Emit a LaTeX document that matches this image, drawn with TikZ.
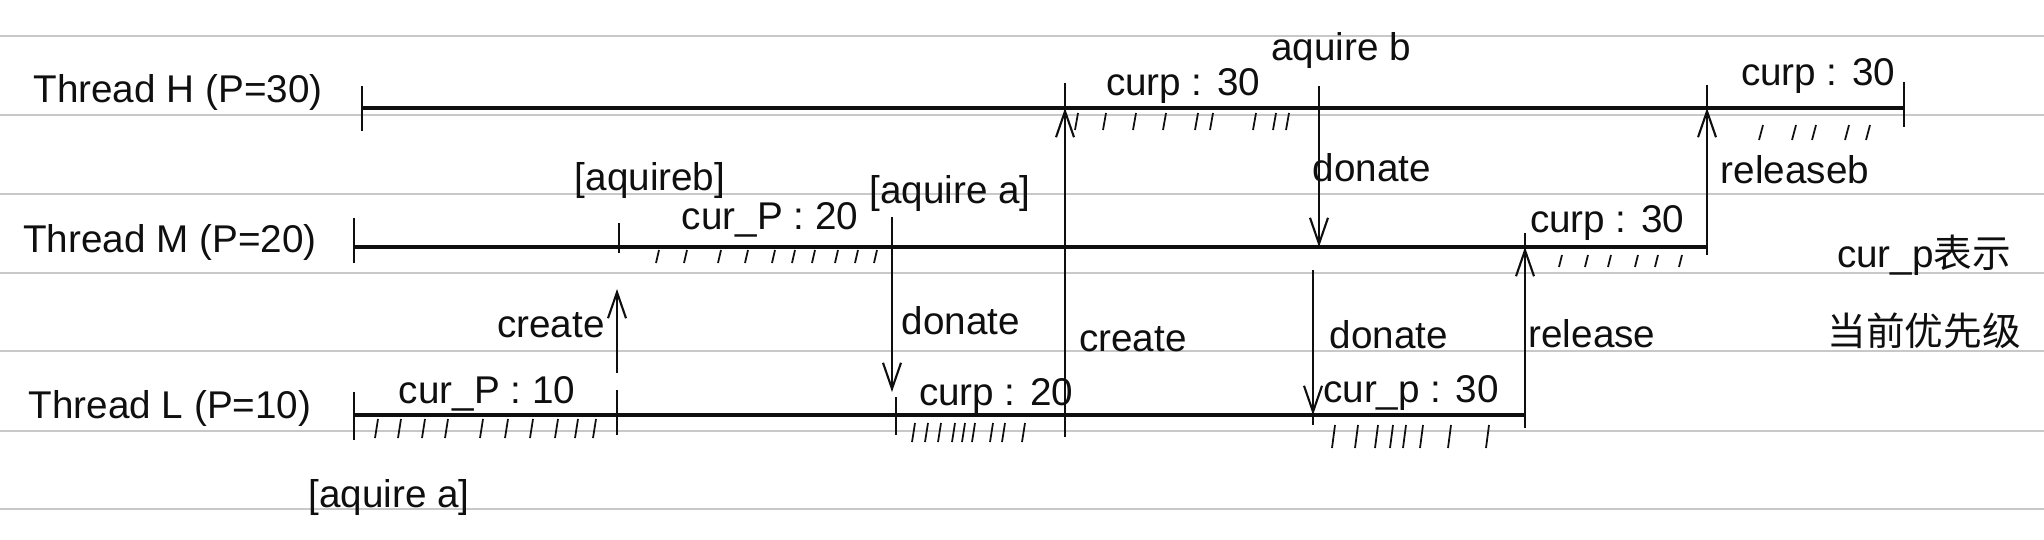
\documentclass[tikz,border=0pt]{standalone}
\usepackage{fontspec}
\setmainfont{Liberation Sans}
\newfontfamily\cjk{Noto Sans CJK SC}
\usetikzlibrary{arrows.meta}
\definecolor{ruling}{RGB}{200,200,200}
\definecolor{ink}{RGB}{15,15,15}
\tikzset{
    rule/.style={draw=ruling, line width=0.8pt},
    thread/.style={draw=ink, line width=1.1pt},
    tick/.style={draw=ink, line width=0.6pt},
    hatch/.style={draw=ink, line width=0.5pt},
    signal/.style={draw=ink, line width=0.6pt,
        -{Straight Barb[length=2.6mm,width=1.8mm]}},
    lbl/.style={font=\fontsize{11}{13}\selectfont, text=ink, inner sep=1pt},
}

\begin{document}
\begin{tikzpicture}[line width=0.6pt, scale=1]
\useasboundingbox (0,0) rectangle (20.44,-5.39);
% ruled paper
\foreach \y in {-0.36,-1.15,-1.94,-2.73,-3.51,-4.31,-5.09}
    \draw[rule] (0,\y) -- (20.44,\y);

% time points
\coordinate (h0) at (3.62,-1.08);
\coordinate (h1) at (10.65,-1.08);
\coordinate (h2) at (13.19,-1.08);
\coordinate (h3) at (17.07,-1.08);
\coordinate (h4) at (19.04,-1.08);

\coordinate (m0) at (3.54,-2.47);
\coordinate (m1) at (6.19,-2.47);
\coordinate (m2) at (8.92,-2.47);
\coordinate (m3) at (13.19,-2.47);
\coordinate (m4) at (15.25,-2.47);
\coordinate (m5) at (17.07,-2.47);

\coordinate (l0) at (3.54,-4.15);
\coordinate (l1) at (6.17,-4.15);
\coordinate (l2) at (8.96,-4.15);
\coordinate (l3) at (10.65,-4.15);
\coordinate (l4) at (13.13,-4.15);
\coordinate (l5) at (15.25,-4.15);

\coordinate (c1s) at (6.17,-3.73);
\coordinate (c1e) at (6.17,-2.89);
\coordinate (d1e) at (8.92,-3.92);
\coordinate (d3s) at (13.13,-2.70);

% threads
\draw[thread] (h0) -- (h4);
\draw[thread] (m0) -- (m5);
\draw[thread] (l0) -- (l5);

% ticks
\draw[tick] (h0) +(0,0.22) -- +(0,-0.23);
\draw[tick] (h1) -- +(0,0.25);
\draw[tick] (h2) -- +(0,0.22);
\draw[tick] (h3) -- +(0,0.23);
\draw[tick] (h4) +(0,0.26) -- +(0,-0.19);

\draw[tick] (m0) +(0,0.29) -- +(0,-0.16);
\draw[tick] (m1) +(0,0.24) -- +(0,-0.06);
\draw[tick] (m2) -- +(0,0.30);
\draw[tick] (m4) -- +(0,0.14);
\draw[tick] (m5) +(0,0.10) -- +(0,-0.08);

\draw[tick] (l0) +(0,0.23) -- +(0,-0.25);
\draw[tick] (l1) +(0,0.25) -- +(0,-0.20);
\draw[tick] (l2) +(0,0.18) -- +(0,-0.20);
\draw[tick] (l3) -- +(0,-0.22);
\draw[tick] (l4) -- +(0,-0.10);
\draw[tick] (l5) -- +(0,-0.13);

% hatching under the running parts
\foreach \x in {10.75,11.03,11.33,11.63,11.95,12.10,12.53,12.73,12.86}
    \draw[hatch] (\x,-1.30) -- ++(0.03,0.17);
\foreach \x in {17.59,17.92,18.12,18.45,18.66}
    \draw[hatch] (\x,-1.40) -- ++(0.04,0.15);
\foreach \x in {6.56,6.84,7.18,7.45,7.72,7.92,8.12,8.35,8.55,8.74}
    \draw[hatch] (\x,-2.63) -- ++(0.03,0.13);
\foreach \x in {15.59,15.85,16.08,16.35,16.55,16.79}
    \draw[hatch] (\x,-2.67) -- ++(0.03,0.12);
\foreach \x in {3.75,3.98,4.22,4.45,4.80,5.05,5.30,5.55,5.75,5.93}
    \draw[hatch] (\x,-4.38) -- ++(0.03,0.19);
\foreach \x in {9.12,9.25,9.38,9.52,9.62,9.72,9.90,10.02,10.22}
    \draw[hatch] (\x,-4.42) -- ++(0.03,0.19);
\foreach \x in {13.32,13.55,13.75,13.90,14.03,14.20,14.48,14.86}
    \draw[hatch] (\x,-4.48) -- ++(0.03,0.23);

% signals
\draw[signal] (c1s) -- (c1e);
\draw[signal] (m2) -- (d1e);
\draw[signal] (l3) -- (h1);
\draw[signal] (h2) -- (m3);
\draw[signal] (d3s) -- (l4);
\draw[signal] (l5) -- (m4);
\draw[signal] (m5) -- (h3);

% labels
\node[lbl] (nameH) at (1.78,-0.92) {Thread H (P=30)};
\node[lbl] (nameM) at (1.70,-2.42) {Thread M (P=20)};
\node[lbl] (nameL) at (1.70,-4.08) {Thread L (P=10)};

\node[lbl] (acqB) at (6.50,-1.80) {[aquireb]};
\node[lbl] (curM1) at (7.70,-2.20) {cur\_P : 20};
\node[lbl] (acqA) at (9.50,-1.93) {[aquire a]};
\node[lbl] (acqB2) at (13.41,-0.50) {aquire b};
\node[lbl] (curH1) at (11.83,-0.86) {curp : 30};
\node[lbl] (curH2) at (18.18,-0.76) {curp : 30};
\node[lbl] (don2) at (13.72,-1.68) {donate};
\node[lbl] (relB) at (17.95,-1.70) {releaseb};
\node[lbl] (curM2) at (16.07,-2.23) {curp : 30};
\node[lbl] (note1) at (19.24,-2.55) {cur\_p{\cjk 表示}};
\node[lbl] (note2) at (19.24,-3.31) {\cjk 当前优先级};

\node[lbl] (cre1) at (5.51,-3.25) {create};
\node[lbl] (don1) at (9.61,-3.21) {donate};
\node[lbl] (cre2) at (11.33,-3.39) {create};
\node[lbl] (don3) at (13.89,-3.35) {donate};
\node[lbl] (rel) at (15.92,-3.34) {release};
\node[lbl] (curL1) at (4.87,-3.94) {cur\_P : 10};
\node[lbl] (curL2) at (9.96,-3.96) {curp : 20};
\node[lbl] (curL3) at (14.11,-3.93) {cur\_p : 30};
\node[lbl] (acqA2) at (3.89,-4.97) {[aquire a]};

\end{tikzpicture}
\end{document}
